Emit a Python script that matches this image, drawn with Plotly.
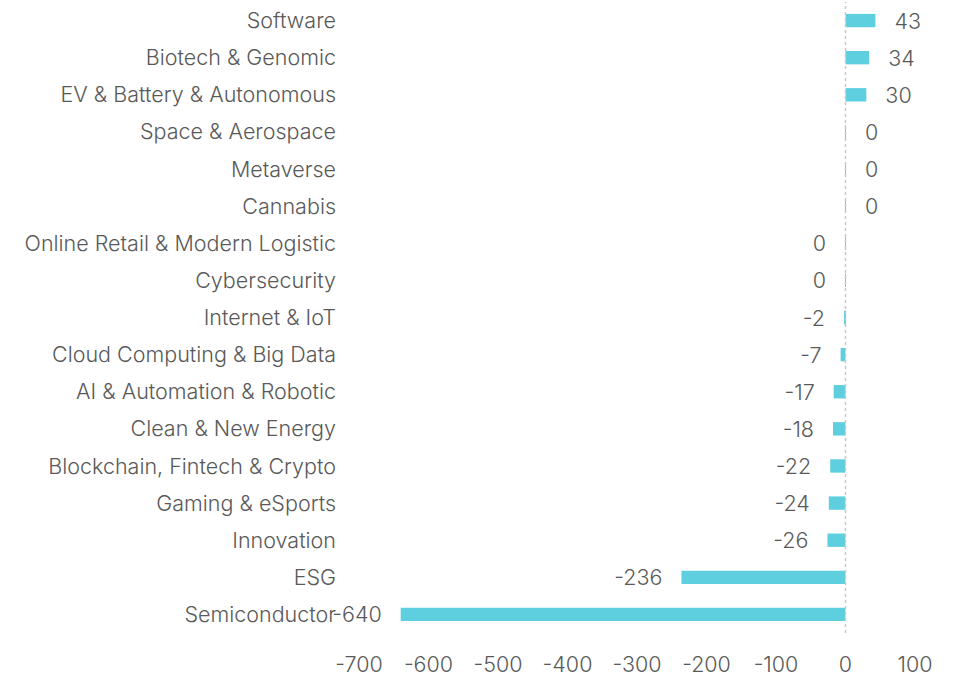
"""Horizontal bar chart of theme flows."""

import plotly.graph_objects as go

# categories, top to bottom
themes = [
    "Software", "Biotech & Genomic", "EV & Battery & Autonomous",
    "Space & Aerospace", "Metaverse", "Cannabis",
    "Online Retail & Modern Logistic", "Cybersecurity", "Internet & IoT",
    "Cloud Computing & Big Data", "AI & Automation & Robotic",
    "Clean & New Energy", "Blockchain, Fintech & Crypto",
    "Gaming & eSports", "Innovation", "ESG", "Semiconductor",
]
# the "0" rows are tiny flows; sign decides which side the label sits
flows = [43, 34, 30, 0.3, 0.3, 0.3, -0.3, -0.3, -2, -7, -17, -18, -22,
         -24, -26, -236, -640]
x_ticks = [-700, -600, -500, -400, -300, -200, -100, 0, 100]

GREY = "#595959"
BAR = "#5ECFDF"
FONT = "Inter, Noto Sans, sans-serif"
FS = 21.5

pad = "\u00a0\u00a0\u2009"
labels = []
for v in flows:
    s = str(int(round(v)))
    labels.append(pad + s if v > 0 else s + pad)

fig = go.Figure(go.Bar(
    x=flows, y=themes, orientation="h",
    marker=dict(color=BAR, line=dict(width=0)),
    text=labels, textposition="outside", constraintext="none",
    cliponaxis=False,
    textfont=dict(color=GREY, size=FS, family=FONT, weight=300),
))

fig.add_shape(type="line", xref="x", yref="paper", x0=0, x1=0, y0=0, y1=1,
              line=dict(color="#c8c8c8", width=1.5, dash="dot"))

fig.update_layout(
    width=961, height=677,
    margin=dict(l=359, r=46, t=2, b=44),
    plot_bgcolor="white", paper_bgcolor="white",
    bargap=0.64, showlegend=False,
    font=dict(family=FONT, size=FS, color=GREY, weight=300),
)
fig.update_xaxes(range=[-700, 100], tickvals=x_ticks,
                 ticktext=[str(t) for t in x_ticks], showgrid=False,
                 zeroline=False, showline=False, ticks="",
                 ticklabelstandoff=16, automargin=False,
                 tickfont=dict(size=FS, color=GREY, weight=300))
fig.update_yaxes(autorange="reversed", showgrid=False, zeroline=False,
                 showline=False, ticks="", ticklabelstandoff=22,
                 automargin=False,
                 tickfont=dict(size=FS, color=GREY, weight=300))

fig.write_html("out.html", config={"displayModeBar": False},
               post_script="document.body.style.margin='0'")
